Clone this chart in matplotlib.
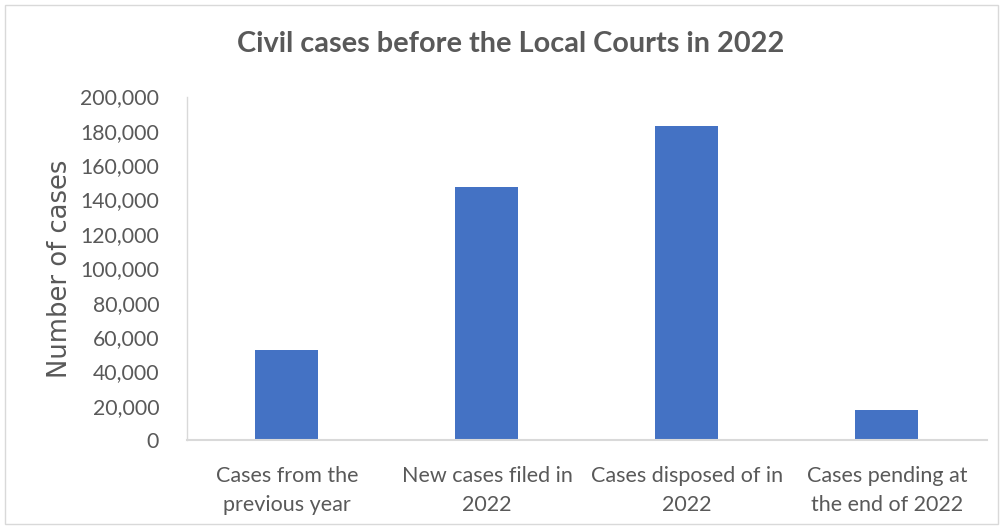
import matplotlib
matplotlib.use("Agg")
import matplotlib.pyplot as plt
from matplotlib.ticker import FuncFormatter, MultipleLocator
from matplotlib.patches import Rectangle

categories = ["Cases from the\nprevious year", "New cases filed in\n2022",
              "Cases disposed of in\n2022", "Cases pending at\nthe end of 2022"]
values = [52400, 147500, 182800, 17500]
title = "Civil cases before the Local Courts in 2022"
ylabel = "Number of cases"

W, H = 1003, 529
fig = plt.figure(figsize=(W / 100, H / 100), dpi=100)
fig.patches.append(Rectangle((5 / W, 5 / H), (W - 10) / W, (H - 10) / H,
                             transform=fig.transFigure, fill=False,
                             edgecolor="#D9D9D9", linewidth=1))

ax = fig.add_axes([187 / W, (H - 440) / H, 800 / W, 343.5 / H])
x = range(len(categories))
ax.bar(x, values, width=0.315, color="#4472C4")
ax.set_xlim(-0.5, len(categories) - 0.5)
ax.set_ylim(0, 200000)
ax.yaxis.set_major_locator(MultipleLocator(20000))
ax.yaxis.set_major_formatter(FuncFormatter(lambda v, p: f"{int(v):,}"))
ax.set_xticks(list(x))
ax.set_xticklabels(categories, fontsize=15.5, color="#595959", family="Lato",
                   linespacing=1.55)
for lab in ax.get_yticklabels():
    lab.set_family("Lato")
ax.tick_params(axis="y", labelsize=15.3, labelcolor="#595959", length=0, pad=20)
ax.tick_params(axis="x", length=0, pad=19)
for s in ["top", "right"]:
    ax.spines[s].set_visible(False)
ax.spines["left"].set_color("#D9D9D9")
ax.spines["left"].set_linewidth(1)
ax.spines["bottom"].set_color("#D9D9D9")
ax.spines["bottom"].set_linewidth(1.5)

fig.text(511 / W, 1 - 44 / H, title, ha="center", va="center",
         fontsize=20.8, fontweight="bold", color="#595959", family="Lato")
fig.text(60 / W, 1 - 269 / H, ylabel, ha="center", va="center",
         rotation=90, fontsize=18.6, color="#595959", family="DejaVu Sans")

fig.savefig("out.png", dpi=100)
